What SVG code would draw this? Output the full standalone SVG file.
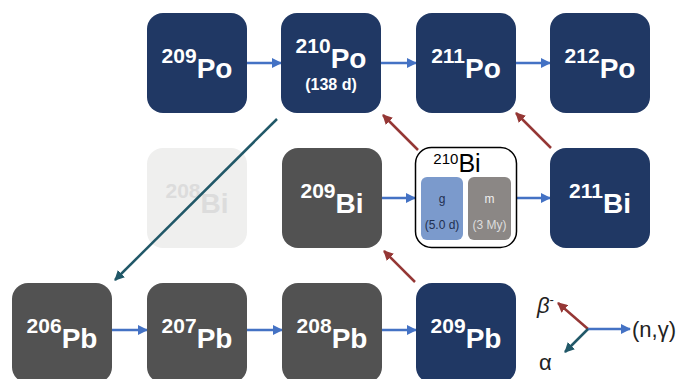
<svg xmlns="http://www.w3.org/2000/svg" width="679" height="379" viewBox="0 0 679 379">
<defs>
<style>
.navy{fill:#203864}
.grey{fill:#525252}
.sup{font-family:"Liberation Sans",Arial,sans-serif;font-weight:bold;font-size:21px;fill:#fff}
.el{font-family:"Liberation Sans",Arial,sans-serif;font-weight:bold;font-size:28px;fill:#fff}
.blue{stroke:#4472c4;stroke-width:2.5;fill:none}
.red{stroke:#953735;stroke-width:2.5;fill:none}
.teal{stroke:#215868;stroke-width:2.5;fill:none}
.lg{font-family:"Liberation Sans",Arial,sans-serif;font-size:22px;fill:#222}
.iso{font-family:"Liberation Sans",Arial,sans-serif;font-size:12px}
</style>
<marker id="mb" viewBox="0 0 10 10" refX="9" refY="5" markerWidth="4" markerHeight="4" orient="auto" markerUnits="strokeWidth"><path d="M0,0L10,5L0,10z" fill="#4472c4"/></marker>
<marker id="mr" viewBox="0 0 10 10" refX="9" refY="5" markerWidth="4" markerHeight="4" orient="auto" markerUnits="strokeWidth"><path d="M0,0L10,5L0,10z" fill="#953735"/></marker>
<marker id="mt" viewBox="0 0 10 10" refX="9" refY="5" markerWidth="4" markerHeight="4" orient="auto" markerUnits="strokeWidth"><path d="M0,0L10,5L0,10z" fill="#215868"/></marker>
</defs>
<rect width="679" height="379" fill="#fff"/>

<g id="Bi208">
<rect x="147" y="148" width="100" height="100" rx="16" fill="#efefee"/>
<text x="197" y="213" text-anchor="middle" font-family="Liberation Sans,Arial,sans-serif" font-weight="bold" fill="#dcdcdc"><tspan font-size="21px" dy="-15">208</tspan><tspan font-size="28px" dy="15">Bi</tspan></text>
</g>

<g id="connectors">
<line class="blue" x1="247" y1="63" x2="281" y2="63" marker-end="url(#mb)"/>
<line class="blue" x1="381" y1="63" x2="416" y2="63" marker-end="url(#mb)"/>
<line class="blue" x1="516" y1="63" x2="550" y2="63" marker-end="url(#mb)"/>
<line class="blue" x1="382" y1="198" x2="415" y2="198" marker-end="url(#mb)"/>
<line class="blue" x1="517" y1="198" x2="550" y2="198" marker-end="url(#mb)"/>
<line class="blue" x1="112" y1="330" x2="147" y2="330" marker-end="url(#mb)"/>
<line class="blue" x1="247" y1="330" x2="282" y2="330" marker-end="url(#mb)"/>
<line class="blue" x1="382" y1="330" x2="416" y2="330" marker-end="url(#mb)"/>
<line class="red" x1="415" y1="282" x2="384" y2="251" marker-end="url(#mr)"/>
<line class="red" x1="418" y1="150" x2="383" y2="115" marker-end="url(#mr)"/>
<line class="red" x1="551" y1="148" x2="516" y2="113" marker-end="url(#mr)"/>
<line class="teal" x1="277" y1="119" x2="115" y2="280" marker-end="url(#mt)"/>
</g>

<g id="Po209"><rect class="navy" x="147" y="13" width="100" height="100" rx="16"/>
<text x="197" y="78" text-anchor="middle"><tspan class="sup" dy="-15">209</tspan><tspan class="el" dy="15">Po</tspan></text></g>
<g id="Po210"><rect class="navy" x="281" y="13" width="100" height="100" rx="16"/>
<text x="331" y="68" text-anchor="middle"><tspan class="sup" dy="-15">210</tspan><tspan class="el" dy="15">Po</tspan></text>
<text x="331" y="90" text-anchor="middle" font-family="Liberation Sans,Arial,sans-serif" font-weight="bold" font-size="16" fill="#fff">(138 d)</text></g>
<g id="Po211"><rect class="navy" x="416" y="13" width="100" height="100" rx="16"/>
<text x="466" y="78" text-anchor="middle"><tspan class="sup" dy="-15">211</tspan><tspan class="el" dy="15">Po</tspan></text></g>
<g id="Po212"><rect class="navy" x="550" y="13" width="100" height="100" rx="16"/>
<text x="600" y="78" text-anchor="middle"><tspan class="sup" dy="-15">212</tspan><tspan class="el" dy="15">Po</tspan></text></g>

<g id="Bi209"><rect class="grey" x="282" y="148" width="100" height="100" rx="16"/>
<text x="332" y="213" text-anchor="middle"><tspan class="sup" dy="-15">209</tspan><tspan class="el" dy="15">Bi</tspan></text></g>
<g id="Bi210"><rect x="415.5" y="147.5" width="101" height="100" rx="16" fill="#fff" stroke="#000" stroke-width="1.5"/>
<text x="457" y="172" text-anchor="middle" font-family="Liberation Sans,Arial,sans-serif" fill="#000"><tspan font-size="15" dy="-8">210</tspan><tspan font-size="25" dy="8">Bi</tspan></text>
<rect x="421" y="177" width="42" height="63" rx="6" fill="#7b9acc"/>
<rect x="468" y="177" width="43" height="63" rx="6" fill="#8b8785"/>
<text class="iso" x="442" y="203" text-anchor="middle" fill="#1f2f50">g</text>
<text class="iso" x="442" y="229" text-anchor="middle" fill="#1f2f50">(5.0 d)</text>
<text class="iso" x="489.5" y="203" text-anchor="middle" fill="#eeeeee">m</text>
<text class="iso" x="489.5" y="229" text-anchor="middle" fill="#dddddd">(3 My)</text></g>
<g id="Bi211"><rect class="navy" x="550" y="148" width="100" height="100" rx="16"/>
<text x="600" y="213" text-anchor="middle"><tspan class="sup" dy="-15">211</tspan><tspan class="el" dy="15">Bi</tspan></text></g>

<g id="Pb206"><rect class="grey" x="12" y="283" width="100" height="100" rx="16"/>
<text x="62" y="348" text-anchor="middle"><tspan class="sup" dy="-15">206</tspan><tspan class="el" dy="15">Pb</tspan></text></g>
<g id="Pb207"><rect class="grey" x="147" y="283" width="100" height="100" rx="16"/>
<text x="197" y="348" text-anchor="middle"><tspan class="sup" dy="-15">207</tspan><tspan class="el" dy="15">Pb</tspan></text></g>
<g id="Pb208"><rect class="grey" x="282" y="283" width="100" height="100" rx="16"/>
<text x="332" y="348" text-anchor="middle"><tspan class="sup" dy="-15">208</tspan><tspan class="el" dy="15">Pb</tspan></text></g>
<g id="Pb209"><rect class="navy" x="416" y="283" width="100" height="100" rx="16"/>
<text x="466" y="348" text-anchor="middle"><tspan class="sup" dy="-15">209</tspan><tspan class="el" dy="15">Pb</tspan></text></g>

<g id="legend">
<line class="red" x1="588" y1="329" x2="558" y2="303" marker-end="url(#mr)"/>
<line class="blue" x1="588" y1="329" x2="630" y2="329" marker-end="url(#mb)"/>
<line class="teal" x1="588" y1="329" x2="565" y2="352" marker-end="url(#mt)"/>
<text class="lg" x="537" y="313" font-style="italic">β<tspan font-size="13" dy="-9" font-style="normal">-</tspan></text>
<text class="lg" x="632" y="337">(n,γ)</text>
<text class="lg" x="539" y="370">α</text>
</g>
</svg>
